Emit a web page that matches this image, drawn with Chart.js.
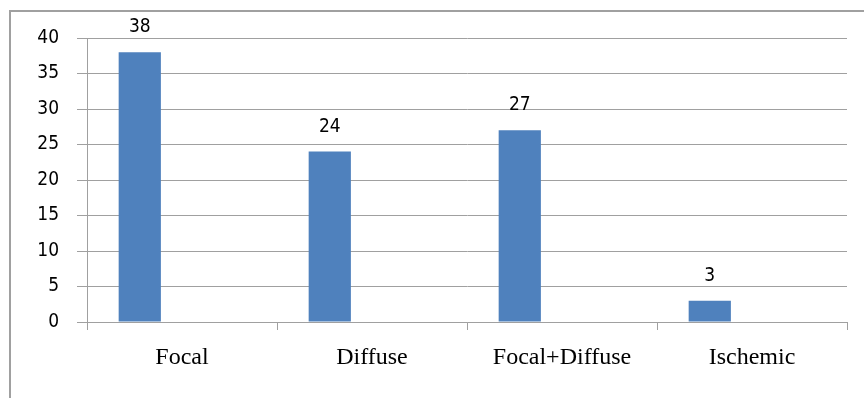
<!DOCTYPE html>
<html>
<head>
<meta charset="utf-8">
<script src="https://cdn.jsdelivr.net/npm/chart.js@4/dist/chart.umd.min.js"></script>
<style>
  html, body { margin: 0; padding: 0; background: #ffffff; }
  #wrap { width: 864px; height: 398px; position: relative; }
</style>
</head>
<body>
<div id="wrap"><canvas id="c"></canvas></div>
<script>
const categories = ['Focal', 'Diffuse', 'Focal+Diffuse', 'Ischemic'];
const seriesValues = [38, 24, 27, 3];
const emptySeriesA = [null, null, null, null];
const emptySeriesB = [null, null, null, null];
const yMin = 0;
const yMax = 40;
const yStep = 5;

const gridGray = '#a0a0a0';
const sansFont = 'DejaVu Sans Condensed, DejaVu Sans, sans-serif';
const serifFont = 'Liberation Serif, Times New Roman, serif';

const frame = {
  id: 'frame',
  beforeDraw(chart) {
    const ctx = chart.ctx;
    ctx.save();
    ctx.fillStyle = '#ffffff';
    ctx.fillRect(0, 0, chart.width, chart.height);
    ctx.strokeStyle = gridGray;
    ctx.lineWidth = 2;
    ctx.strokeRect(10, 11, 900, 500);
    ctx.restore();
  }
};

const valueLabels = {
  id: 'valueLabels',
  afterDatasetsDraw(chart) {
    const ctx = chart.ctx;
    const meta = chart.getDatasetMeta(0);
    ctx.save();
    ctx.fillStyle = '#000000';
    ctx.font = '19px ' + sansFont;
    ctx.textAlign = 'center';
    ctx.textBaseline = 'middle';
    meta.data.forEach((bar, i) => {
      const v = chart.data.datasets[0].data[i];
      if (v === null || v === undefined) return;
      ctx.fillText(String(v), bar.x, bar.y - 25);
    });
    ctx.restore();
  }
};

new Chart(document.getElementById('c'), {
  type: 'bar',
  data: {
    labels: categories,
    datasets: [
      { data: seriesValues, backgroundColor: '#4f81bd', borderWidth: 0 },
      { data: emptySeriesA, backgroundColor: '#c0504d', borderWidth: 0 },
      { data: emptySeriesB, backgroundColor: '#9bbb59', borderWidth: 0 }
    ]
  },
  options: {
    responsive: true,
    maintainAspectRatio: false,
    devicePixelRatio: 1,
    animation: false,
    datasets: { bar: { categoryPercentage: 3 / 4.5, barPercentage: 1 } },
    layout: { padding: { top: 38, right: 17, left: 0, bottom: 0 } },
    plugins: { legend: { display: false }, tooltip: { enabled: false } },
    scales: {
      x: {
        grid: { display: true, drawOnChartArea: false, tickLength: 8, color: gridGray, offset: true },
        border: { color: gridGray, width: 1 },
        ticks: { color: '#000000', font: { family: serifFont, size: 24 }, padding: 13, maxRotation: 0 },
        afterFit(s) { s.height = 76; }
      },
      y: {
        min: yMin,
        max: yMax,
        ticks: { stepSize: yStep, color: '#000000', font: { family: sansFont, size: 19 }, padding: 18 },
        grid: { color: gridGray, lineWidth: 1, tickLength: 10 },
        border: { color: gridGray, width: 1 },
        afterFit(s) { s.width = 87; }
      }
    }
  },
  plugins: [frame, valueLabels]
});
</script>
</body>
</html>
